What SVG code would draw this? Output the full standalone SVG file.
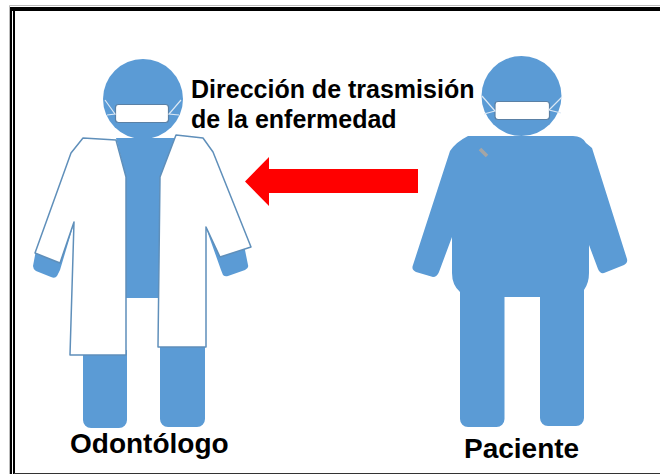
<svg xmlns="http://www.w3.org/2000/svg" width="660" height="474" viewBox="0 0 660 474">
<style>
.b{fill:#5b9bd5}
.c{fill:#fff;stroke:#5f8fba;stroke-width:1.5;stroke-linejoin:round}
.m{fill:#fff;stroke:#5a80a5;stroke-width:1.2}
.l{fill:none;stroke:#dbe8f5;stroke-width:1.2}
.t{font-family:"Liberation Sans",Arial,sans-serif;font-weight:700;fill:#000}
</style>
<rect width="660" height="474" fill="#fff"/>
<g id="frame"><path d="M9.500 474V5.500H660" fill="none" stroke="#bbb"/><path d="M11 474V9H660" fill="none" stroke="#000" stroke-width="2"/><path d="M10 9H660" fill="none" stroke="#000" stroke-width="4"/><path d="M14 474V10" fill="none" stroke="#000" stroke-width="2"/><path d="M14 473.500H660" stroke="#333" stroke-width="1.200"/></g>
<g id="odontologo">
<circle class="b" cx="143" cy="99" r="40"/>
<path class="b" d="M116 138H176L161 177V298H126V177Z"/>
<path class="b" d="M83 350H127V420a8 8 0 0 1-8 8H91a8 8 0 0 1-8-8ZM160 340H205V419a8 8 0 0 1-8 8H168a8 8 0 0 1-8-8Z"/>
<path class="b" d="M75 220 60 270 57 276Q55 279 51 277L36 271Q33 269 33 266L36 250Z"/>
<path class="b" d="M205 225 221 270 223 275Q225 277 228 276L245 270Q249 268 248 265L244 245Z"/>
<path class="c" d="M116 140 83 138 71 153 35 253 60 263 74 222 70 355H126V177Z"/>
<path class="c" d="M176 135 203 138 213 152 251 247 220 257 206 227V347H158L160 177Z"/>
<rect class="m" x="115.500" y="104.500" width="53" height="18" rx="3"/>
<path class="l" d="M105 100 115 114 107 115M181 100 169 114 179 115"/>
</g>
<g id="paciente">
<circle class="b" cx="521.500" cy="96" r="40"/>
<path class="b" d="M468 136H573Q582 136 586 143L592 148 627 259Q628 263 624 265L604 273Q600 274 598 269L589 245V273Q589 283 584 290V418a8 8 0 0 1-8 8H548a8 8 0 0 1-8-8V297H504.500V419a8 8 0 0 1-8 8H468a8 8 0 0 1-8-8V292Q452 285 452 273V237L439 272Q437 277 433 277L416 272Q411 270 413 265L450 151Q456 142 468 136Z"/>
<path d="M480 149 487 156" stroke="#a5a5a5" stroke-width="3.500" fill="none"/>
<rect class="m" x="495" y="101.500" width="54.500" height="18" rx="3"/>
<path class="l" d="M482 96 495 111 484 114M562 97 549 110 561 113"/>
</g>
<g id="connectors"><path d="M245 181.500 269 157V169H418V193H269V206Z" fill="#f00"/></g>
<g id="labels">
<text class="t" x="191" y="98" font-size="25">Dirección de trasmisión</text>
<text class="t" x="191" y="128" font-size="25">de la enfermedad</text>
<text class="t" x="70" y="453" font-size="28">Odontólogo</text>
<text class="t" x="464" y="458" font-size="28">Paciente</text>
</g>
</svg>
